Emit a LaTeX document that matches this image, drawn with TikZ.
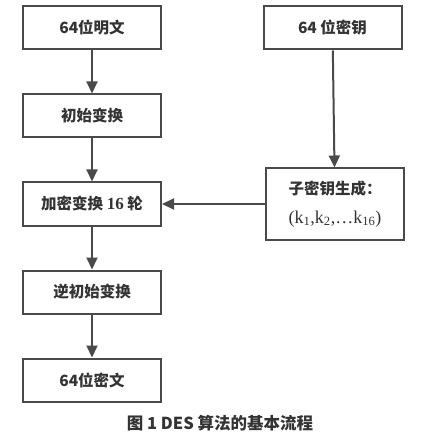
\documentclass[tikz,border=0pt]{standalone}
\usepackage{fontspec}
\setmainfont{Noto Sans CJK SC}
\newfontfamily\serifk{Liberation Serif}
\usetikzlibrary{positioning, arrows.meta}
\definecolor{linegray}{HTML}{4A4A4A}
\definecolor{textgray}{HTML}{333333}
\tikzset{
box/.style={draw=linegray, line width=2pt, minimum width=138pt, minimum height=43pt, inner sep=2pt, font=\fontsize{15.5}{17}\selectfont\bfseries, text=textgray}, % the process boxes
flow/.style={-{Triangle[length=12pt,width=11pt]}, draw=linegray, line width=2pt}, % the connecting arrows
}

\begin{document}
\begin{tikzpicture}[x=1pt,y=-1pt,node distance=43pt and 103pt]
\useasboundingbox (0,0) rectangle (428,446);
\node[box] (plain) at (92,28) {64位明文};
\node[box] (ip) [below=of plain] {初始变换};
\node[box] (enc) [below=of ip] {加密变换 {\serifk\fontsize{17}{17}\selectfont 16} 轮};
\node[box] (ipinv) [below=of enc] {逆初始变换};
\node[box] (cipher) [below=of ipinv] {64位密文};
\node[box] (key) at (332.5,28) {64 位密钥};
\node[box, minimum height=71pt, align=center, font=\fontsize{15.5}{29}\selectfont\bfseries] (sub) [right=of enc] {子密钥生成：\\{\serifk\mdseries\fontsize{18}{18}\selectfont (k\textsubscript{1},k\textsubscript{2},…k\textsubscript{16})}};
\node[font=\fontsize{16.5}{18}\selectfont\bfseries, text=textgray] (caption) at (220,423) {图 1 DES 算法的基本流程};
\draw[flow] (plain) -- (ip);
\draw[flow] (ip) -- (enc);
\draw[flow] (enc) -- (ipinv);
\draw[flow] (ipinv) -- (cipher);
\draw[flow] (key) -- (sub);
\draw[flow] (sub) -- (enc);
\end{tikzpicture}
\end{document}
